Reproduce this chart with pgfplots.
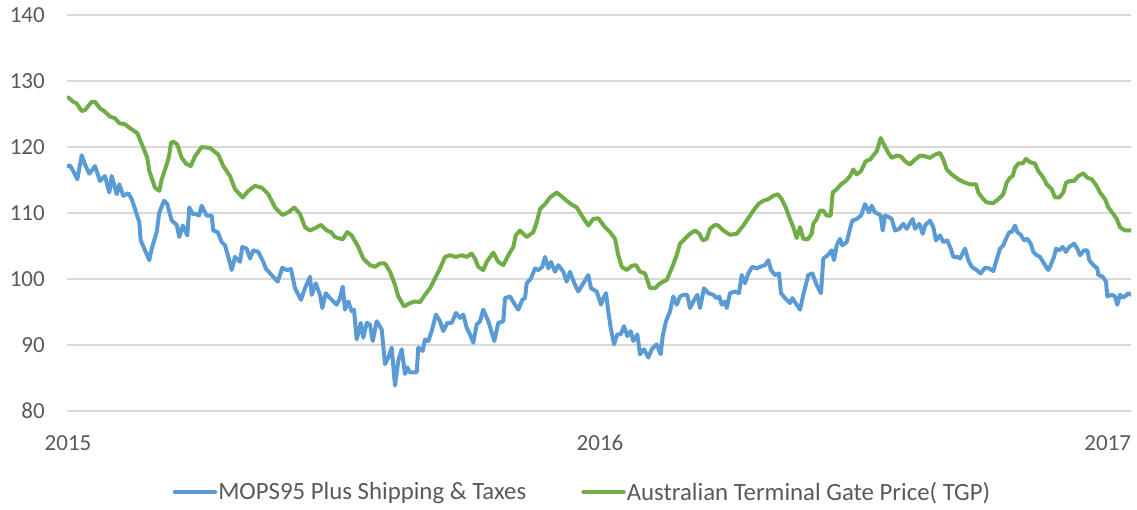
\documentclass[border=0pt]{standalone}
\usepackage{fontspec}
\setmainfont{Carlito}
\usepackage{pgfplots}
\pgfplotsset{compat=1.18}
\definecolor{mopsblue}{HTML}{5B9BD5}
\definecolor{tgpgreen}{HTML}{70AD47}
\definecolor{txtgray}{HTML}{595959}
\definecolor{gridgray}{HTML}{D9D9D9}
\begin{document}
\begin{tikzpicture}
\useasboundingbox (-67pt,-99pt) rectangle (1070pt,411pt);
\begin{axis}[
  at={(0pt,0pt)}, anchor=south west,
  scale only axis, width=1064pt, height=396pt,
  xmin=67, xmax=1131, ymin=80, ymax=140,
  ytick={80,90,...,140},
  xtick={68,600,1131},
  xticklabels={2015,2016,\makebox[0pt][r]{2017}},
  ymajorgrids, grid style={gridgray, line width=1.5pt},
  axis line style={draw=none}, tick style={draw=none},
  /pgf/number format/assume math mode=true,
  tick label style={font=\fontsize{23}{27}\selectfont, text=txtgray},
  xticklabel style={inner sep=0pt, anchor=north, yshift=-24pt},
  yticklabel style={inner sep=0pt, anchor=east, xshift=-22pt},
  legend columns=2,
  legend style={at={(0.484,-0.2045)}, anchor=center, draw=none, fill=none,
    font=\fontsize{24.8}{29}\selectfont, text=txtgray,
    /tikz/every even column/.append style={column sep=54pt},
    nodes={inner sep=1pt}},
  legend image code/.code={\draw[#1, line width=4.5pt] (0pt,0pt) -- (40pt,0pt);},
  every axis plot/.append style={line join=round, line cap=round},
]
\addplot[mopsblue, line width=4pt] table {
67.3 117.1
70 117.2
73.3 116.35
77.3 115.1
81.7 118.75
85 117.35
89.3 115.95
95 117.1
100 114.85
105 115.6
109.3 113.1
111.7 115.6
116.7 112.85
119.3 114.35
123.3 112.6
128.3 113.0
131.7 112.1
135 110.6
139.3 108.6
140.7 105.85
145 104.35
149.3 102.85
151.7 104.6
156.7 107.1
159.3 110.1
164 111.85
167.3 111.35
171.7 108.85
176.7 108.2
179.3 106.35
182.7 108.1
187.3 106.6
189.3 110.85
192.7 109.85
196 109.85
199 109.6
201.7 111.1
206.7 109.6
211.7 109.6
213.3 107.35
217.7 107.1
221.7 105.6
225 105.1
228.3 103.35
231.7 101.35
235 103.35
240 102.6
242.3 104.85
246.7 104.6
250 103.1
253.3 104.35
258.3 104.1
263.3 102.6
265.7 101.6
271.7 100.6
277.7 99.6
282.3 101.7
286.7 101.35
291 101.5
295 98.6
301 96.85
305 98.6
310 100.35
311.7 97.6
315.7 99.35
320 97.6
322.3 95.6
325.7 97.85
330 97.1
336.7 96.1
340 97.1
342.7 98.85
345 95.35
348.3 96.6
351.7 95.1
354 95.35
356.7 90.85
360.7 93.35
363.3 91.1
366.7 93.35
370 93.1
372.7 90.6
376.7 93.6
381.7 92.35
385 87.1
388.3 88.1
391.7 89.6
395 83.85
398.3 87.6
401.7 89.35
405 85.6
407.3 86.6
410 85.85
416.7 85.85
418.3 89.6
422.7 89.1
425 90.85
428.3 90.6
431.7 92.1
436 94.6
440 93.6
443.3 92.1
447.3 93.35
451.7 93.35
456 94.85
460 94.1
463.3 94.6
466.7 92.6
470 91.6
473.3 90.35
476.7 93.1
480 93.6
483.3 95.35
488.3 93.6
494.3 90.6
498.3 93.35
503.3 93.6
505 97.1
510 97.35
515 96.1
518.3 95.35
522.3 96.85
525 97.1
526.7 99.35
531 100.1
535 101.6
538.3 101.35
542.3 101.85
545 103.35
548.3 101.6
551 102.6
555 101.1
558.3 102.1
563.3 101.1
566.7 99.6
570 101.1
575 99.1
578.3 98.1
582.3 99.1
588.3 100.6
591 98.6
596.7 98.1
601 96.1
603.3 97.1
606 97.85
608.3 95.1
610.7 92.6
614 90.1
617.3 91.6
620.7 91.6
624 92.85
627.3 91.35
630.7 92.1
633.3 90.6
637.3 91.6
640 88.6
644 89.35
648.3 88.1
651.7 89.35
656.7 90.1
660.7 88.6
662.7 91.35
666 93.6
670 95.1
673.3 97.35
676.7 96.1
680 97.35
683.3 97.6
687.3 97.6
690 95.6
693.3 96.6
697.3 97.6
700 95.6
704 98.6
708.3 97.85
713.3 97.6
716.7 97.1
719.3 97.35
721.7 96.1
725 96.6
726.7 95.6
730 97.85
735 98.1
739 97.85
741.7 100.6
745 99.35
748.3 100.85
752.3 101.85
756.7 101.6
760 101.85
765 102.1
768.3 102.85
771 101.35
775 100.6
779 100.85
781 97.85
785 97.1
790 96.35
792.3 97.1
796.7 96.1
800 95.35
803.3 97.6
808.3 100.6
812.3 100.85
816.7 99.1
821 97.85
823.3 103.1
827.7 103.6
831.7 104.35
834 102.85
836.7 105.1
840 106.1
842.3 105.1
846.7 105.6
850 107.6
852.3 108.85
856.7 109.1
861 109.6
865 111.35
869 110.1
871.7 111.1
875 110.1
878.3 109.85
880.7 109.6
882.7 107.35
885 109.6
889.3 109.35
891.7 109.1
895 107.35
899.3 107.6
903.3 108.35
906.7 107.6
910.7 108.6
912.7 109.1
915 107.6
919.3 108.35
922.7 106.85
925 108.1
930 108.85
933.3 107.85
936 105.85
940 106.6
943.3 105.6
947.3 105.85
950.7 104.6
953.3 103.35
957.3 103.35
960 103.1
965 104.6
968.3 102.85
971.7 101.85
976.7 101.35
980.7 100.85
985 101.7
989.3 101.6
993.3 101.2
996 102.6
1000 104.6
1003.3 105.1
1006 106.1
1009.3 107.1
1011.7 107.1
1015 108.1
1017.3 107.1
1020.7 106.7
1024 105.85
1027.3 106.1
1030.7 105.35
1033.3 104.1
1036.7 103.6
1040 103.35
1044 102.35
1048.3 101.35
1050 101.85
1054 103.35
1056 104.6
1059.3 104.35
1062.7 104.85
1066 104.1
1069.3 104.85
1074 105.35
1077.3 104.6
1080 103.6
1084 104.35
1087.3 104.35
1089.3 102.85
1093.3 102.1
1097.3 101.6
1098.3 100.6
1102.7 100.35
1106 99.6
1107.3 97.35
1111.7 97.6
1115 97.35
1117.3 96.1
1120 97.6
1123.3 97.2
1126.7 97.6
1128.3 97.85
1131 97.6
};
\addlegendentry{MOPS95 Plus Shipping \& Taxes}
\addplot[tgpgreen, line width=4pt] table {
68.3 127.5
73.3 126.85
76.7 126.6
81.7 125.45
85 125.6
91.7 126.85
95 126.85
100 125.85
105 125.35
110 124.6
115 124.35
119.3 123.6
125 123.45
130 122.85
137.3 122.1
142.7 120.1
147.3 118.35
149.3 116.35
155 113.85
159.3 113.35
161.7 115.1
166.7 117.35
169 118.6
171 120.6
173.3 120.85
177.3 120.35
181.7 118.35
186 117.5
190.7 117.1
195 118.6
201.7 120
210 119.85
218.3 118.85
223.3 117.1
230 115.6
235 113.6
242.7 112.35
248.3 113.35
255 114.1
261.7 113.85
268.3 112.85
275 110.85
282.3 109.7
288.3 110.1
294.3 110.85
300 109.85
305 107.85
310 107.35
315 107.7
321 108.2
326.7 107.35
331 107.1
335 106.35
342.7 106.0
347.3 107.1
351.7 106.6
358.3 104.85
363.3 103.1
370 102.1
375 101.85
380 102.35
385 102.35
390 101.1
395 99.1
398.3 97.35
404 95.85
410 96.35
415 96.6
420 96.5
425 97.6
430 98.6
435 100.1
440 101.6
445 103.35
450 103.6
456 103.35
461.7 103.6
466.7 103.35
471.7 103.85
475 103.1
478.3 101.85
483.3 101.35
486.7 102.6
493.3 104.0
498.3 102.6
503.3 102.1
508.3 103.6
513.3 104.85
515.7 106.6
520 107.35
526.7 106.35
533.3 107.1
536.7 108.6
540 110.6
545 111.35
550 112.35
556.7 113.1
561.7 112.5
566.7 111.85
571 111.35
576.7 110.85
581.7 109.6
588.3 108.1
593.3 109.1
598.3 109.2
605 107.85
610 107.1
615 106.1
618.3 103.6
621.7 101.85
626.7 101.35
631.7 102.0
636 102.1
640 101.1
645 100.85
650 98.6
655 98.6
660 99.35
666.7 99.85
671.7 101.6
676.7 103.6
680 105.35
685 106.1
690 106.85
695 107.35
699.3 106.85
702.7 105.85
706.7 106.1
710 107.6
715 108.2
718.3 108.1
723.3 107.35
730 106.7
736.7 106.85
743.3 108.1
750 109.6
753.3 110.35
758.3 111.35
763.3 111.85
768.3 112.1
773.3 112.6
777.7 112.85
781.7 112.1
785.7 110.85
790 109.1
793.3 107.85
796.7 106.2
800 107.85
803.3 106.1
807.7 106.0
811.7 106.85
813.3 108.35
816.7 109.1
820 110.35
823.3 110.35
826.7 109.6
830.7 109.6
832.7 113.1
836.7 113.6
841 114.35
845.7 114.85
850 115.6
853.3 116.6
856.7 115.85
861 116.35
865.7 117.85
870 118.1
876.7 119.35
880.7 121.35
884 120.35
888.3 119.1
891.7 118.35
896.7 118.7
900.7 118.6
905 117.85
910 117.35
915 118.1
920 118.7
925 118.6
930 118.35
935 118.85
940 119.1
943.3 118.1
946.7 116.6
951.7 115.85
958.3 115.1
965 114.6
970 114.35
976 114.35
978.3 113.1
983.3 112.1
986.7 111.6
993.3 111.5
998.3 112.1
1003.3 112.85
1006.7 114.6
1010 115.35
1012.7 115.6
1015 116.85
1018.3 117.5
1022.7 117.5
1026 118.2
1030 117.7
1035 117.5
1038.3 116.35
1043.3 115.35
1046.7 114.35
1051.7 113.6
1055 112.35
1059.3 112.35
1063.3 113.1
1066 114.6
1070 114.85
1074 114.85
1078.3 115.6
1083.3 116.0
1087.3 115.35
1091.7 115.1
1096.7 114.1
1100 113.1
1105 112.1
1108.3 110.85
1113.3 109.85
1116.7 109.1
1120 107.85
1125 107.35
1131 107.35
};
\addlegendentry{Australian Terminal Gate Price( TGP)}
\end{axis}
\end{tikzpicture}
\end{document}
